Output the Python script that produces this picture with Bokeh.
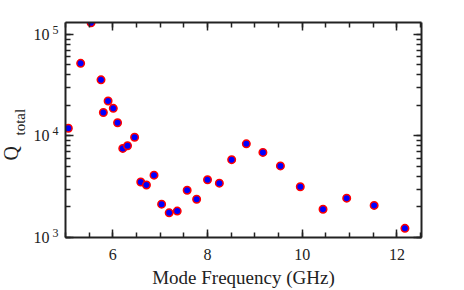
import numpy as np
from bokeh.plotting import figure
from bokeh.models import (LinearAxis, LogAxis, Title, Range1d, FixedTicker, LogTicker,
                          CustomJSTickFormatter)
from bokeh.embed import file_html
from bokeh.resources import INLINE

freq_ghz = [5.54, 5.32, 5.75, 5.90, 5.80, 6.01, 6.10, 5.06, 6.46,
            6.21, 6.31, 6.59, 6.71, 6.87, 7.03, 7.19, 7.36, 7.57, 7.77,
            8.00, 8.25, 8.51, 8.82, 9.17, 9.54, 9.96, 10.44, 10.94, 11.52, 12.17]
q_total = [1.30e5, 5.19e4, 3.57e4, 2.21e4, 1.70e4, 1.87e4, 1.35e4, 1.19e4, 9.7e3,
           7.54e3, 8.0e3, 3.52e3, 3.29e3, 4.11e3, 2.13e3, 1.75e3, 1.82e3, 2.92e3, 2.38e3,
           3.70e3, 3.43e3, 5.84e3, 8.36e3, 6.89e3, 5.07e3, 3.16e3, 1.90e3, 2.44e3, 2.07e3, 1.23e3]

x_major = [6, 8, 10, 12]
y_major = [1e3, 1e4, 1e5]

FONT = "Liberation Serif"
AX = "#222222"
PX_PER_DECADE = 102.5
EXP_RAISE = 4.5  # superscript raise in px

p = figure(width=464, height=290, y_axis_type="log", output_backend="svg",
           toolbar_location=None, x_range=Range1d(5.0, 12.52),
           y_range=Range1d(1e3, 1.31e5),
           min_border_left=65, min_border_right=43, min_border_top=22, min_border_bottom=51)
p.grid.visible = False
p.outline_line_color = None
p.background_fill_color = "white"
p.border_fill_color = "white"

p.scatter(freq_ghz, q_total, size=7.5, fill_color="blue", line_color="red", line_width=1.5)

def style(ax, labels=True):
    ax.axis_line_color = AX
    ax.axis_line_width = 2
    ax.major_tick_line_color = AX
    ax.minor_tick_line_color = AX
    ax.major_tick_line_width = 1.5
    ax.minor_tick_line_width = 1.5
    ax.major_tick_in = 8
    ax.major_tick_out = 0
    ax.minor_tick_in = 5
    ax.minor_tick_out = 0
    ax.major_label_text_font = FONT
    ax.major_label_text_color = "#222222"
    if not labels:
        ax.major_label_text_font_size = "0px"
        ax.major_label_text_alpha = 0
        ax.major_label_standoff = 0

def label_only(ax, size, standoff):
    ax.axis_line_color = None
    ax.major_tick_line_color = None
    ax.minor_tick_line_color = None
    ax.major_tick_in = 0
    ax.major_tick_out = 0
    ax.minor_tick_in = 0
    ax.minor_tick_out = 0
    ax.major_label_text_font = FONT
    ax.major_label_text_color = "#222222"
    ax.major_label_text_font_size = size
    ax.major_label_standoff = standoff

xt = FixedTicker(ticks=x_major, minor_ticks=list(np.arange(5.0, 12.6, 0.5)))
xa = p.xaxis[0]
xa.ticker = xt
style(xa)
xa.major_label_text_font_size = "16px"
xa.major_label_standoff = 11
xa.axis_label = "Mode Frequency (GHz)"
xa.axis_label_text_font = FONT
xa.axis_label_text_font_style = "normal"
xa.axis_label_text_font_size = "19px"
xa.axis_label_text_color = "#222222"
xa.axis_label_standoff = 4

ya = p.yaxis[0]
ya.ticker = LogTicker(num_minor_ticks=10)
style(ya, labels=False)

# exponent labels (superscripts), slightly raised above each decade tick
k = 10 ** (EXP_RAISE / PX_PER_DECADE)
exp_axis = LogAxis(ticker=FixedTicker(ticks=[v * k for v in y_major], minor_ticks=[]),
                   formatter=CustomJSTickFormatter(code="return String(Math.floor(Math.log10(tick) + 1e-9));"))
label_only(exp_axis, "12px", 7)
p.add_layout(exp_axis, "left")

ten_axis = LogAxis(ticker=FixedTicker(ticks=y_major, minor_ticks=[]),
                   formatter=CustomJSTickFormatter(code="return '10';"))
label_only(ten_axis, "16px", 0)
p.add_layout(ten_axis, "left")

top = LinearAxis(ticker=xt)
style(top, labels=False)
p.add_layout(top, "above")
right = LogAxis(ticker=LogTicker(num_minor_ticks=10))
style(right, labels=False)
p.add_layout(right, "right")

p.add_layout(Title(text="total", align="left", offset=102, standoff=6,
                   text_font=FONT, text_font_size="15px", text_font_style="normal",
                   text_color="#222222"), "left")
p.add_layout(Title(text="Q", align="left", offset=77, standoff=-30,
                   text_font=FONT, text_font_size="20px", text_font_style="normal",
                   text_color="#222222"), "left")

open("out.html", "w").write(file_html(p, INLINE))
